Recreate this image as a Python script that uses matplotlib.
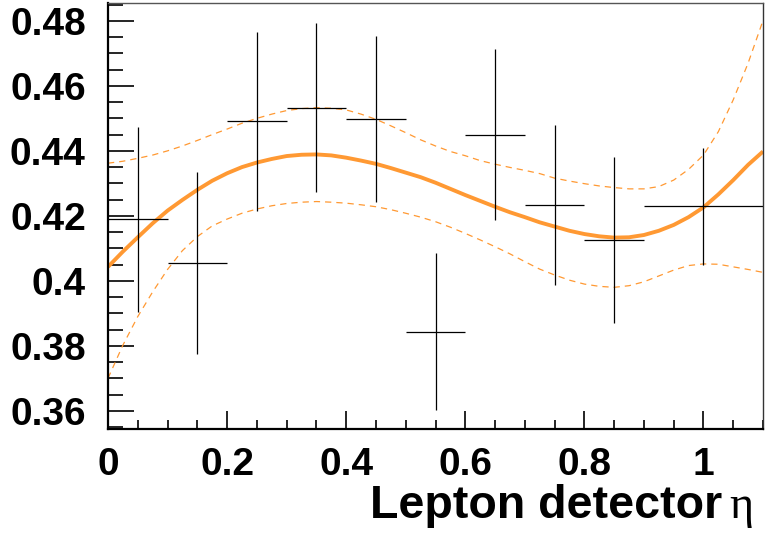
import matplotlib
matplotlib.use('Agg')
import matplotlib.pyplot as plt  # type: ignore[import]
from matplotlib.ticker import MultipleLocator  # type: ignore[import]

# measured points (bin centres, half widths, values, errors)
bin_centers = [0.05, 0.15, 0.25, 0.35, 0.45, 0.55, 0.65, 0.75, 0.85, 1.0]
bin_half = [0.05, 0.05, 0.05, 0.05, 0.05, 0.05, 0.05, 0.05, 0.05, 0.1]
values = [0.4189, 0.4054, 0.4491, 0.4533, 0.4498,
          0.3844, 0.4450, 0.4233, 0.4126, 0.4229]
errors = [0.0285, 0.0280, 0.0275, 0.0260, 0.0255,
          0.0242, 0.0263, 0.0246, 0.0256, 0.0179]

fit_x = [i * 0.025 for i in range(45)]
fit_mid = [0.4043, 0.4090, 0.4134, 0.4177, 0.4216, 0.4249, 0.4280, 0.4308,
           0.4331, 0.4350, 0.4364, 0.4375, 0.4384, 0.4388, 0.4389, 0.4386,
           0.4379, 0.4370, 0.4360, 0.4347, 0.4333, 0.4319, 0.4302, 0.4283,
           0.4264, 0.4246, 0.4228, 0.4211, 0.4196, 0.4180, 0.4167, 0.4154,
           0.4144, 0.4137, 0.4133, 0.4134, 0.4141, 0.4154, 0.4172, 0.4196,
           0.4226, 0.4266, 0.4310, 0.4357, 0.4398]
fit_up = [0.4362, 0.4368, 0.4377, 0.4387, 0.4400, 0.4415, 0.4432, 0.4450,
          0.4467, 0.4485, 0.4500, 0.4513, 0.4524, 0.4530, 0.4533, 0.4531,
          0.4526, 0.4513, 0.4497, 0.4477, 0.4456, 0.4434, 0.4415, 0.4398,
          0.4385, 0.4370, 0.4359, 0.4349, 0.4340, 0.4330, 0.4316, 0.4307,
          0.4299, 0.4292, 0.4287, 0.4283, 0.4283, 0.4290, 0.4310, 0.4343,
          0.4387, 0.4459, 0.4557, 0.4670, 0.4801]
fit_lo = [0.3700, 0.3802, 0.3890, 0.3966, 0.4035, 0.4093, 0.4136, 0.4169,
          0.4190, 0.4208, 0.4221, 0.4231, 0.4238, 0.4242, 0.4244, 0.4242,
          0.4239, 0.4234, 0.4228, 0.4219, 0.4208, 0.4196, 0.4182, 0.4165,
          0.4146, 0.4126, 0.4105, 0.4083, 0.4059, 0.4036, 0.4018, 0.4002,
          0.3990, 0.3983, 0.3980, 0.3985, 0.3997, 0.4015, 0.4033, 0.4047,
          0.4052, 0.4051, 0.4043, 0.4035, 0.4026]

x_ticks = [0, 0.2, 0.4, 0.6, 0.8, 1]
x_ticklabels = ['0', '0.2', '0.4', '0.6', '0.8', '1']
y_ticks = [0.36, 0.38, 0.40, 0.42, 0.44, 0.46, 0.48]
y_ticklabels = ['0.36', '0.38', '0.4', '0.42', '0.44', '0.46', '0.48']

orange = '#ff9933'

plt.rcParams['font.family'] = ['Liberation Sans', 'DejaVu Sans']

fig = plt.figure(figsize=(7.66, 5.33), dpi=100)
ax = fig.add_axes([108 / 766, 104 / 533, 655 / 766, 426 / 533])

ax.plot(fit_x, fit_up, color=orange, lw=0.9, ls=(0, (5, 4)))
ax.plot(fit_x, fit_lo, color=orange, lw=0.9, ls=(0, (5, 4)))
ax.plot(fit_x, fit_mid, color=orange, lw=2.8, solid_capstyle='butt')

ax.errorbar(bin_centers, values, xerr=bin_half, yerr=errors, fmt='none',
            ecolor='black', elinewidth=0.9, capsize=0)

ax.set_xlim(0, 1.1)
ax.set_ylim(0.3544, 0.4855)

ax.set_xticks(x_ticks)
ax.set_xticklabels(x_ticklabels)
ax.set_yticks(y_ticks)
ax.set_yticklabels(y_ticklabels)
ax.xaxis.set_minor_locator(MultipleLocator(0.05))
ax.yaxis.set_minor_locator(MultipleLocator(0.005))

ax.tick_params(axis='both', which='both', direction='in', top=False,
               right=False, colors='black', width=1.2)
ax.tick_params(axis='x', which='major', length=13, pad=13,
               labelsize=28)
ax.tick_params(axis='x', which='minor', length=6.5)
ax.tick_params(axis='y', which='major', length=19, pad=16,
               labelsize=28)
ax.tick_params(axis='y', which='minor', length=11)
for lab in ax.get_xticklabels() + ax.get_yticklabels():
    lab.set_fontweight('bold')

ax.spines['left'].set_linewidth(1.6)
ax.spines['bottom'].set_linewidth(1.6)
ax.spines['top'].set_linewidth(1.0)
ax.spines['right'].set_linewidth(1.0)
ax.spines['top'].set_color('#555555')
ax.spines['right'].set_color('#333333')

# x title, eta drawn in a plain serif face as in the original
fig.text(722 / 766, 1 - 518 / 533, 'Lepton detector', ha='right',
         va='baseline', fontsize=33.5, fontweight='bold')
fig.text(729 / 766, 1 - 518 / 533, 'η', ha='left', va='baseline',
         fontsize=33, family=['Liberation Serif', 'DejaVu Serif'])

fig.savefig('out.png', dpi=100)
